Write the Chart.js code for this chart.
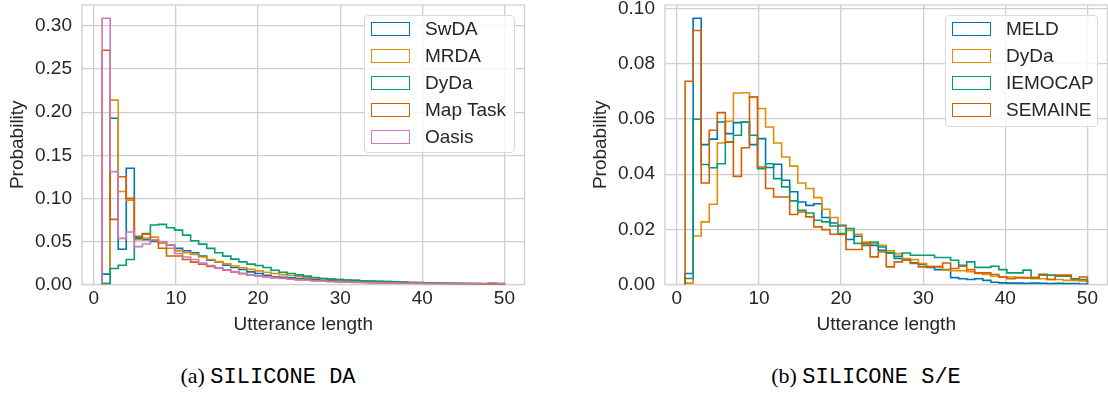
<!DOCTYPE html>
<html>
<head>
<meta charset="utf-8">
<script src="https://cdn.jsdelivr.net/npm/chart.js@4.4.1/dist/chart.umd.min.js"></script>
<style>
  html, body { margin: 0; padding: 0; width: 1108px; height: 394px; overflow: hidden; background: #fff; }
  canvas { position: absolute; top: 0; }
  .legend { position: absolute; box-sizing: border-box; border: 1px solid #d9d9d9; border-radius: 4px;
            background: rgba(255,255,255,0.8); font: 19px "Liberation Sans", Arial, sans-serif; color: #262626; }
  .legend .item { position: absolute; left: 6px; height: 20px; display: flex; align-items: center; white-space: nowrap; }
  .legend .patch { width: 39px; height: 14px; box-sizing: border-box; border: 1.5px solid; margin-right: 15px; }
  .caption { position: absolute; top: 363px; transform: translateX(-50%); white-space: nowrap; font-size: 22px; color: #000; }
  .caption .rm { font-family: "Liberation Serif", serif; }
  .caption .tt { font-family: "Liberation Mono", monospace; }
</style>
</head>
<body>
<canvas id="chartDA" width="560" height="345" style="left:0px"></canvas>
<canvas id="chartSE" width="560" height="345" style="left:583px"></canvas>
<div class="legend" id="legendDA" style="left:364px; top:15px; width:151px; height:138px;"></div>
<div class="legend" id="legendSE" style="left:945px; top:15px; width:153px; height:112px;"></div>
<div class="caption" style="left:268px"><span class="rm">(a) </span><span class="tt">SILICONE DA</span></div>
<div class="caption" style="left:866px"><span class="rm">(b) </span><span class="tt">SILICONE S/E</span></div>

<script>
// histogram bins: 50 bins between the shortest and longest utterance
const binLo = 1;
const binHi = 50;

// tick labels
const xTicks = [0, 10, 20, 30, 40, 50];
const yTicksDA = [0, 0.05, 0.10, 0.15, 0.20, 0.25, 0.30];
const yTicksSE = [0, 0.02, 0.04, 0.06, 0.08, 0.10];

// (a) SILICONE DA
const namesDA = ['SwDA', 'MRDA', 'DyDa', 'Map Task', 'Oasis'];
const swda = [0.0120, 0.1930, 0.0410, 0.1350, 0.0535, 0.0520, 0.0500, 0.0496, 0.0457, 0.0419,
              0.0391, 0.0368, 0.0329, 0.0283, 0.0263, 0.0224, 0.0198, 0.0174, 0.0147, 0.0128,
              0.0108, 0.0089, 0.0085, 0.0077, 0.0070, 0.0062, 0.0058, 0.0050, 0.0045, 0.0041,
              0.0037, 0.0033, 0.0030, 0.0027, 0.0024, 0.0022, 0.0020, 0.0018, 0.0016, 0.0014,
              0.0013, 0.0012, 0.0011, 0.0010, 0.0009, 0.0008, 0.0008, 0.0007, 0.0006, 0.0006];
const mrda = [0.0010, 0.2140, 0.1080, 0.0980, 0.0520, 0.0540, 0.0550, 0.0480, 0.0420, 0.0390,
              0.0370, 0.0350, 0.0320, 0.0290, 0.0265, 0.0240, 0.0215, 0.0195, 0.0175, 0.0158,
              0.0142, 0.0128, 0.0115, 0.0104, 0.0094, 0.0085, 0.0077, 0.0070, 0.0064, 0.0058,
              0.0053, 0.0048, 0.0044, 0.0040, 0.0036, 0.0033, 0.0030, 0.0027, 0.0025, 0.0023,
              0.0021, 0.0019, 0.0017, 0.0016, 0.0014, 0.0013, 0.0012, 0.0011, 0.0010, 0.0009];
const dydaDA = [0.0010, 0.0186, 0.0224, 0.0290, 0.0547, 0.0590, 0.0690, 0.0698, 0.0658, 0.0631,
                0.0573, 0.0507, 0.0469, 0.0419, 0.0368, 0.0329, 0.0294, 0.0263, 0.0236, 0.0221,
                0.0198, 0.0166, 0.0143, 0.0128, 0.0112, 0.0097, 0.0081, 0.0070, 0.0062, 0.0058,
                0.0052, 0.0048, 0.0044, 0.0040, 0.0036, 0.0033, 0.0030, 0.0027, 0.0024, 0.0022,
                0.0020, 0.0018, 0.0016, 0.0014, 0.0013, 0.0012, 0.0010, 0.0009, 0.0008, 0.0007];
const maptask = [0.2720, 0.0756, 0.1250, 0.1000, 0.0560, 0.0585, 0.0510, 0.0420, 0.0330, 0.0330,
                 0.0290, 0.0260, 0.0235, 0.0210, 0.0190, 0.0165, 0.0145, 0.0125, 0.0110, 0.0100,
                 0.0090, 0.0080, 0.0072, 0.0064, 0.0057, 0.0051, 0.0045, 0.0040, 0.0036, 0.0032,
                 0.0029, 0.0026, 0.0023, 0.0021, 0.0019, 0.0017, 0.0015, 0.0014, 0.0013, 0.0012,
                 0.0011, 0.0010, 0.0009, 0.0008, 0.0008, 0.0007, 0.0006, 0.0006, 0.0005, 0.0005];
const oasis = [0.3090, 0.1310, 0.0535, 0.0610, 0.0440, 0.0470, 0.0520, 0.0500, 0.0460, 0.0360,
               0.0320, 0.0290, 0.0250, 0.0220, 0.0190, 0.0170, 0.0150, 0.0130, 0.0110, 0.0100,
               0.0090, 0.0080, 0.0070, 0.0062, 0.0055, 0.0049, 0.0044, 0.0039, 0.0035, 0.0031,
               0.0028, 0.0025, 0.0023, 0.0021, 0.0019, 0.0017, 0.0016, 0.0015, 0.0014, 0.0013,
               0.0012, 0.0012, 0.0011, 0.0011, 0.0010, 0.0010, 0.0010, 0.0012, 0.0020, 0.0015];

// (b) SILICONE S/E
const namesSE = ['MELD', 'DyDa', 'IEMOCAP', 'SEMAINE'];
const meld = [0.0040, 0.0965, 0.0507, 0.0527, 0.0589, 0.0547, 0.0587, 0.0589, 0.0507, 0.0529,
              0.0424, 0.0436, 0.0378, 0.0336, 0.0299, 0.0287, 0.0293, 0.0243, 0.0223, 0.0215,
              0.0163, 0.0175, 0.0149, 0.0142, 0.0124, 0.0114, 0.0094, 0.0089, 0.0079, 0.0073,
              0.0062, 0.0054, 0.0054, 0.0025, 0.0021, 0.0018, 0.0021, 0.0015, 0.0008, 0.0006,
              0.0005, 0.0005, 0.0004, 0.0005, 0.0004, 0.0003, 0.0004, 0.0003, 0.0003, 0.0002];
const dydaSE = [0.0005, 0.0176, 0.0227, 0.0291, 0.0513, 0.0592, 0.0694, 0.0695, 0.0680, 0.0638,
                0.0571, 0.0513, 0.0462, 0.0429, 0.0368, 0.0348, 0.0315, 0.0273, 0.0243, 0.0211,
                0.0196, 0.0182, 0.0154, 0.0149, 0.0142, 0.0122, 0.0112, 0.0094, 0.0090, 0.0076,
                0.0066, 0.0066, 0.0052, 0.0050, 0.0050, 0.0046, 0.0040, 0.0036, 0.0030, 0.0027,
                0.0027, 0.0025, 0.0025, 0.0021, 0.0021, 0.0018, 0.0018, 0.0015, 0.0015, 0.0013];
const iemocap = [0.0022, 0.0599, 0.0435, 0.0423, 0.0438, 0.0516, 0.0541, 0.0589, 0.0541, 0.0420,
                 0.0438, 0.0384, 0.0354, 0.0303, 0.0269, 0.0259, 0.0233, 0.0227, 0.0212, 0.0185,
                 0.0203, 0.0149, 0.0142, 0.0154, 0.0136, 0.0114, 0.0102, 0.0114, 0.0106, 0.0106,
                 0.0106, 0.0098, 0.0098, 0.0088, 0.0070, 0.0082, 0.0062, 0.0062, 0.0066, 0.0054,
                 0.0042, 0.0042, 0.0052, 0.0025, 0.0037, 0.0034, 0.0030, 0.0030, 0.0021, 0.0018];
const semaine = [0.0737, 0.0921, 0.0368, 0.0559, 0.0623, 0.0517, 0.0392, 0.0496, 0.0680, 0.0426,
                 0.0348, 0.0317, 0.0317, 0.0254, 0.0263, 0.0245, 0.0209, 0.0199, 0.0182, 0.0181,
                 0.0127, 0.0127, 0.0149, 0.0100, 0.0118, 0.0064, 0.0082, 0.0089, 0.0076, 0.0064,
                 0.0064, 0.0064, 0.0078, 0.0058, 0.0066, 0.0054, 0.0042, 0.0042, 0.0036, 0.0027,
                 0.0021, 0.0025, 0.0024, 0.0025, 0.0034, 0.0018, 0.0034, 0.0034, 0.0018, 0.0027];

// seaborn "colorblind" palette
const palette = ['#0173b2', '#de8f05', '#029e73', '#d55e00', '#cc78bc'];
const gridColor = '#cfcfcf';
const textColor = '#262626';
const fontFamily = '"Liberation Sans", Arial, sans-serif';

// outline of a step histogram: up at the first edge, across every bin, down at the last edge
function stepPoints(values) {
    const w = (binHi - binLo) / values.length;
    const pts = [{ x: binLo, y: 0 }];
    values.forEach((v, i) => pts.push({ x: binLo + i * w, y: v }));
    pts.push({ x: binHi, y: 0 });
    return pts;
}

// light frame round the whole plot area
const framePlugin = {
    id: 'frame',
    beforeDatasetsDraw(chart) {
        const { ctx, chartArea: a } = chart;
        ctx.save();
        ctx.strokeStyle = gridColor;
        ctx.lineWidth = 1.3;
        ctx.strokeRect(a.left, a.top, a.right - a.left, a.bottom - a.top);
        ctx.restore();
    }
};

function makeChart(id, names, series, yTicks) {
    const peak = Math.max(...series.flat());
    const margin = (binHi - binLo) * 0.05;
    const font = { family: fontFamily, size: 19 };

    return new Chart(document.getElementById(id), {
        type: 'line',
        data: {
            datasets: series.map((vals, i) => ({
                label: names[i],
                data: stepPoints(vals),
                stepped: true,
                borderColor: palette[i],
                borderWidth: 1.6,
                pointRadius: 0,
                fill: false,
                order: series.length - 1 - i
            }))
        },
        options: {
            responsive: false,
            animation: false,
            events: [],
            layout: { padding: { top: 5, right: 35.5, left: 0, bottom: 0 } },
            plugins: { legend: { display: false }, tooltip: { enabled: false } },
            scales: {
                x: {
                    type: 'linear',
                    min: binLo - margin,
                    max: binHi + margin,
                    afterBuildTicks: s => { s.ticks = xTicks.map(v => ({ value: v })); },
                    afterFit: s => { s.height = 60.5; s.paddingLeft = 0; s.paddingRight = 0; },
                    grid: { color: gridColor, lineWidth: 1.3, drawTicks: false },
                    border: { display: false },
                    ticks: { color: textColor, font, padding: 3, maxRotation: 0, autoSkip: false,
                             callback: v => String(v) },
                    title: { display: true, text: 'Utterance length', color: textColor, font,
                             padding: { top: 0, bottom: 8.6 } }
                },
                y: {
                    type: 'linear',
                    min: 0,
                    max: peak * 1.05,
                    afterBuildTicks: s => { s.ticks = yTicks.map(v => ({ value: v })); },
                    afterFit: s => { s.width = 82; s.paddingTop = 0; s.paddingBottom = 0; },
                    grid: { color: gridColor, lineWidth: 1.3, drawTicks: false },
                    border: { display: false },
                    ticks: { color: textColor, font, padding: 10, autoSkip: false,
                             callback: v => v.toFixed(2) },
                    title: { display: true, text: 'Probability', color: textColor, font,
                             padding: { top: 6.6, bottom: 0 } }
                }
            }
        },
        plugins: [framePlugin]
    });
}

function makeLegend(id, names) {
    const box = document.getElementById(id);
    names.forEach((name, i) => {
        const item = document.createElement('div');
        item.className = 'item';
        item.style.top = (3.3 + 26.8 * i) + 'px';
        const patch = document.createElement('span');
        patch.className = 'patch';
        patch.style.borderColor = palette[i];
        const label = document.createElement('span');
        label.textContent = name;
        item.appendChild(patch);
        item.appendChild(label);
        box.appendChild(item);
    });
}

makeChart('chartDA', namesDA, [swda, mrda, dydaDA, maptask, oasis], yTicksDA);
makeChart('chartSE', namesSE, [meld, dydaSE, iemocap, semaine], yTicksSE);
makeLegend('legendDA', namesDA);
makeLegend('legendSE', namesSE);
</script>
</body>
</html>
